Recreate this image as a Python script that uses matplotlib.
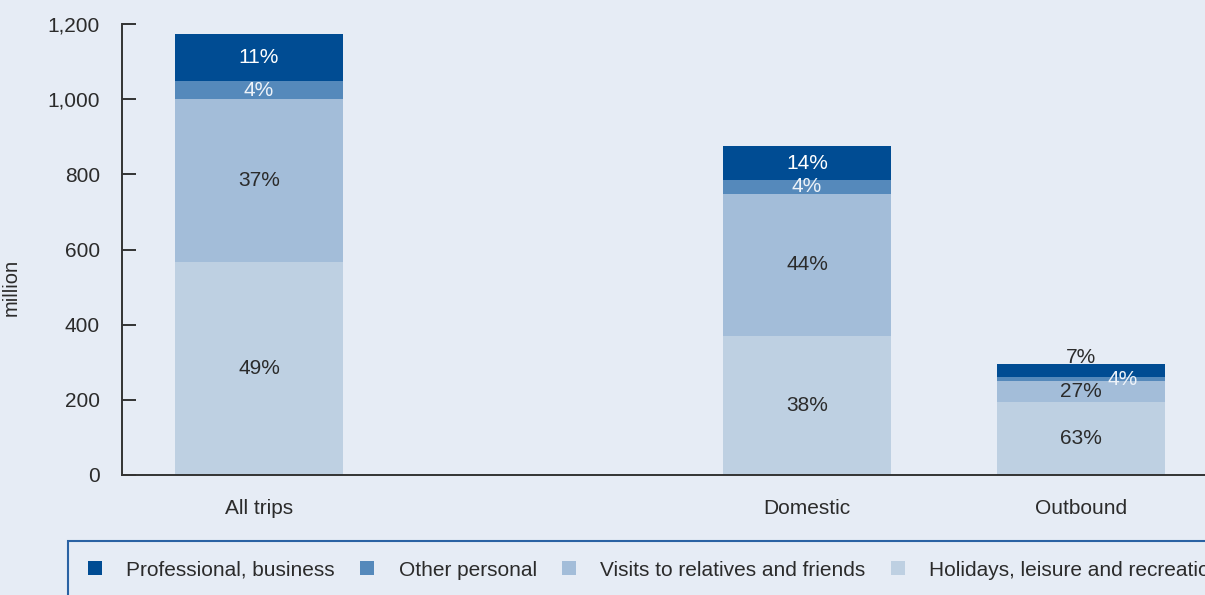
import matplotlib
matplotlib.use("Agg")
import matplotlib.pyplot as plt
from matplotlib.lines import Line2D
from matplotlib.patches import Rectangle
import numpy as np

plt.rcParams['font.family'] = ['Liberation Sans', 'DejaVu Sans']

# Trip categories (slot 1 is left empty between "All trips" and the breakdown)
categories = ["All trips", "", "Domestic", "Outbound"]
slots = [0, 2, 3]
bar_names = ["All trips", "Domestic", "Outbound"]

# Trips by purpose, million
holidays = [567, 371, 195]
visits = [433, 378, 55]
other_personal = [48, 36, 10]
business = [125, 90, 35]

# Share labels, per purpose
holidays_pct = ["49%", "38%", "63%"]
visits_pct = ["37%", "44%", "27%"]
other_pct = ["4%", "4%", "4%"]
business_pct = ["11%", "14%", "7%"]

series_names = ["Professional, business", "Other personal",
                "Visits to relatives and friends", "Holidays, leisure and recreation"]
colors = {"business": "#004c93", "other": "#5589bb",
          "visits": "#a3bdd9", "holidays": "#bed0e2"}

bg = "#e6ecf5"
ink = "#2b2b2b"

fig = plt.figure(figsize=(12.05, 5.95), dpi=100, facecolor=bg)
ax = fig.add_axes([122 / 1205, 120 / 595, (1205 - 122) / 1205, 451 / 595])
ax.set_facecolor(bg)

x = np.array(slots, dtype=float)
w = 0.61
h = np.array(holidays)
v = np.array(visits)
o = np.array(other_personal)
b = np.array(business)

ax.bar(x, h, w, color=colors["holidays"], zorder=2)
ax.bar(x, v, w, bottom=h, color=colors["visits"], zorder=2)
ax.bar(x, o, w, bottom=h + v, color=colors["other"], zorder=2)
ax.bar(x, b, w, bottom=h + v + o, color=colors["business"], zorder=2)

fs = 15
for i, xi in enumerate(x):
    ax.text(xi, h[i] / 2, holidays_pct[i], ha="center", va="center",
            fontsize=fs, color=ink, zorder=3)
    ax.text(xi, h[i] + v[i] / 2, visits_pct[i], ha="center", va="center",
            fontsize=fs, color=ink, zorder=3)
    top = h[i] + v[i] + o[i] + b[i]
    if bar_names[i] == "Outbound":
        # thin segments: labels moved beside / above the bar
        ax.annotate(other_pct[i], (xi, h[i] + v[i] + o[i] / 2), xytext=(30, 0),
                    textcoords="offset points", ha="center", va="center",
                    fontsize=fs, color="#eef3f9", zorder=3)
        ax.annotate(business_pct[i], (xi, top), xytext=(0, 5),
                    textcoords="offset points", ha="center", va="center",
                    fontsize=fs, color=ink, zorder=3)
    else:
        ax.text(xi, h[i] + v[i] + o[i] / 2, other_pct[i], ha="center", va="center",
                fontsize=fs, color="#eef3f9", zorder=3)
        ax.text(xi, h[i] + v[i] + o[i] + b[i] / 2, business_pct[i], ha="center",
                va="center", fontsize=fs, color="white", zorder=3)

ax.set_xlim(-0.5, (1205 - 122) / 274 - 0.5)
ax.set_ylim(0, 1200)
ax.set_yticks(np.arange(0, 1201, 200))
ax.set_yticklabels([f"{t:,}" for t in range(0, 1201, 200)])
ax.set_xticks(range(len(categories)))
ax.set_xticklabels(categories)

for s in ["top", "right"]:
    ax.spines[s].set_visible(False)
for s in ["left", "bottom"]:
    ax.spines[s].set_color("#333333")
    ax.spines[s].set_linewidth(1.4)
ax.tick_params(axis="y", direction="in", length=10, width=1.4, color="#333333",
               labelsize=fs, labelcolor=ink, pad=16)
ax.tick_params(axis="x", length=0, labelsize=fs, labelcolor=ink, pad=17.5)
ax.set_ylabel("million", fontsize=14.5, color=ink)
ax.yaxis.set_label_coords(-101 / 1083, 0.415)

# Legend panel
fig.patches.append(Rectangle((68 / 1205, -0.05), 1.2, (595 - 541) / 595 + 0.05,
                             transform=fig.transFigure, facecolor="none",
                             edgecolor="#2a62a3", linewidth=1.5, zorder=1))
handles = [Line2D([], [], linestyle="none", marker="s", markersize=10.5,
                  markeredgewidth=0, color=c)
           for c in [colors["business"], colors["other"], colors["visits"], colors["holidays"]]]
fig.legend(handles, series_names, loc="center left", ncol=4,
           bbox_to_anchor=(66 / 1205, 1 - 570 / 595), frameon=False,
           fontsize=fs, handlelength=1.0, handletextpad=1.0, columnspacing=1.05,
           labelcolor=ink)

fig.savefig("out.png", dpi=100, facecolor=bg)
